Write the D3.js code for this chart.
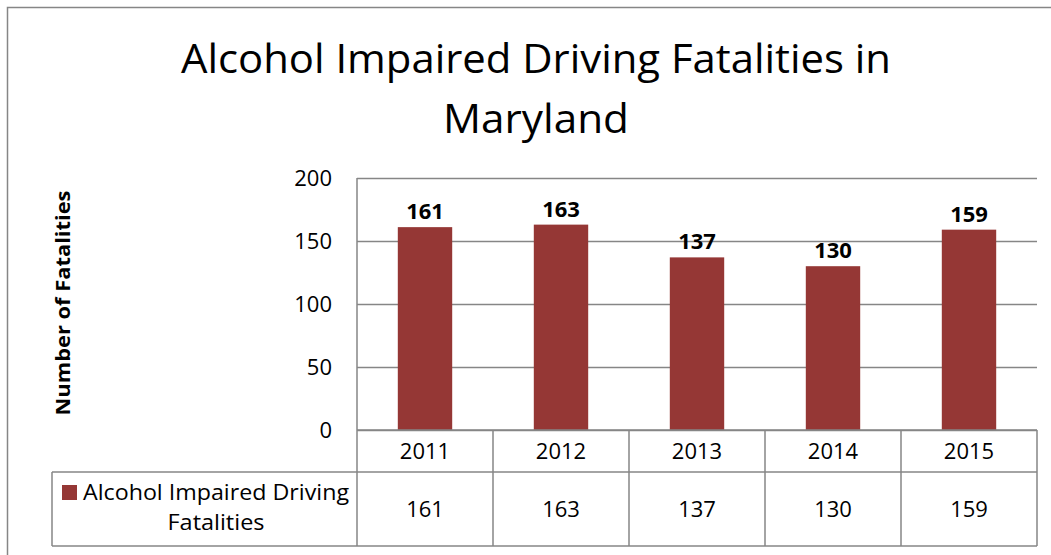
<!DOCTYPE html>
<html>
<head>
<meta charset="utf-8">
<script src="https://cdn.jsdelivr.net/npm/d3@7"></script>
<style>
  body { margin: 0; background: #fff; }
  text { font-family: "Open Sans", "Noto Sans", sans-serif; fill: #000; }
</style>
</head>
<body>
<svg id="chart" width="1051" height="555"></svg>
<script>
var years = ["2011", "2012", "2013", "2014", "2015"];
var fatalities = [161, 163, 137, 130, 159];
var yTicks = [0, 50, 100, 150, 200];
var seriesName = "Alcohol Impaired Driving Fatalities";

var margin = {top: 178, left: 357, right: 14, bottom: 125};
var width = 1051 - margin.left - margin.right,
    height = 555 - margin.top - margin.bottom;

var grey = "#868686", barColor = "#953735";

var svg = d3.select("#chart");

// outer chart border (only left and top are visible in the crop)
svg.append("path")
    .attr("d", "M7.5,560V7.5H1060")
    .attr("fill", "none")
    .attr("stroke", grey)
    .attr("stroke-width", 1.5);

// title
var title = svg.append("text")
    .attr("text-anchor", "middle")
    .style("font-size", "41px");
title.append("tspan").attr("x", 536).attr("y", 73)
    .attr("textLength", 710).attr("lengthAdjust", "spacingAndGlyphs")
    .text("Alcohol Impaired Driving Fatalities in");
title.append("tspan").attr("x", 536).attr("y", 133)
    .attr("textLength", 186).attr("lengthAdjust", "spacingAndGlyphs")
    .text("Maryland");

var g = svg.append("g")
    .attr("transform", "translate(" + margin.left + "," + margin.top + ")");

var x = d3.scaleBand().domain(years).range([0, width]).paddingInner(0).paddingOuter(0);
var y = d3.scaleLinear().domain([0, 200]).range([height, 0]);

// gridlines + y labels
var yAxis = g.append("g")
    .call(d3.axisLeft(y).tickValues(yTicks).tickSize(-width).tickPadding(25));
yAxis.select(".domain").remove();
yAxis.selectAll("line").attr("stroke", grey).attr("stroke-width", 1.5);
yAxis.selectAll("text")
    .style("font-size", "22px")
    .style("font-family", "Open Sans, sans-serif")
    .attr("fill", "#000");

// left axis line
g.append("line")
    .attr("x1", 0).attr("x2", 0).attr("y1", 0).attr("y2", height)
    .attr("stroke", grey).attr("stroke-width", 1.5);

// bars
var bw = x.bandwidth() * 0.4;
g.selectAll(".bar")
    .data(fatalities)
    .enter().append("rect")
    .attr("class", "bar")
    .attr("x", function(d, i) { return x(years[i]) + (x.bandwidth() - bw) / 2; })
    .attr("width", bw)
    .attr("y", function(d) { return y(d); })
    .attr("height", function(d) { return height - y(d); })
    .attr("fill", barColor);

// data labels
g.selectAll(".lbl")
    .data(fatalities)
    .enter().append("text")
    .attr("class", "lbl")
    .attr("text-anchor", "middle")
    .attr("x", function(d, i) { return x(years[i]) + x.bandwidth() / 2; })
    .attr("y", function(d) { return y(d) - 8; })
    .style("font-size", "22px")
    .style("font-weight", "bold")
    .text(function(d) { return d; });

// y axis title
svg.append("text")
    .attr("transform", "translate(70,303) rotate(-90)")
    .attr("text-anchor", "middle")
    .style("font-size", "20px")
    .style("font-weight", "bold")
    .attr("textLength", 225).attr("lengthAdjust", "spacingAndGlyphs")
    .text("Number of Fatalities");

// data table
var row1 = 42, row2 = 74, legendLeft = 52 - margin.left;
var tbl = g.append("g").attr("transform", "translate(0," + height + ")");
var lineAttrs = function(sel) { return sel.attr("stroke", grey).attr("stroke-width", 1.5); };

tbl.append("line").attr("x1", 0).attr("x2", width).attr("y1", 0).attr("y2", 0).call(lineAttrs);
tbl.append("line").attr("x1", legendLeft).attr("x2", width).attr("y1", row1).attr("y2", row1).call(lineAttrs);
tbl.append("line").attr("x1", legendLeft).attr("x2", width).attr("y1", row1 + row2).attr("y2", row1 + row2).call(lineAttrs);
tbl.append("line").attr("x1", legendLeft).attr("x2", legendLeft).attr("y1", row1).attr("y2", row1 + row2).call(lineAttrs);

var edges = years.map(function(d) { return x(d); }).concat([width]);
tbl.selectAll(".vline")
    .data(edges)
    .enter().append("line")
    .attr("class", "vline")
    .attr("x1", function(d) { return d; }).attr("x2", function(d) { return d; })
    .attr("y1", 0).attr("y2", row1 + row2)
    .call(lineAttrs);

tbl.selectAll(".yr")
    .data(years)
    .enter().append("text")
    .attr("class", "yr")
    .attr("text-anchor", "middle")
    .attr("x", function(d) { return x(d) + x.bandwidth() / 2; })
    .attr("y", 29)
    .style("font-size", "22px")
    .text(function(d) { return d; });

tbl.selectAll(".val")
    .data(fatalities)
    .enter().append("text")
    .attr("class", "val")
    .attr("text-anchor", "middle")
    .attr("x", function(d, i) { return x(years[i]) + x.bandwidth() / 2; })
    .attr("y", row1 + 45)
    .style("font-size", "22px")
    .text(function(d) { return d; });

// legend key + series name
tbl.append("rect")
    .attr("x", 62 - margin.left).attr("y", 55)
    .attr("width", 15).attr("height", 15)
    .attr("fill", barColor);
var words = seriesName.split(" ");
tbl.append("text")
    .attr("x", 216 - margin.left).attr("y", 70)
    .attr("text-anchor", "middle")
    .style("font-size", "22px")
    .attr("textLength", 266).attr("lengthAdjust", "spacingAndGlyphs")
    .text(words.slice(0, 3).join(" "));
tbl.append("text")
    .attr("x", 216 - margin.left).attr("y", 100)
    .attr("text-anchor", "middle")
    .style("font-size", "22px")
    .attr("textLength", 97).attr("lengthAdjust", "spacingAndGlyphs")
    .text(words.slice(3).join(" "));
</script>
</body>
</html>
